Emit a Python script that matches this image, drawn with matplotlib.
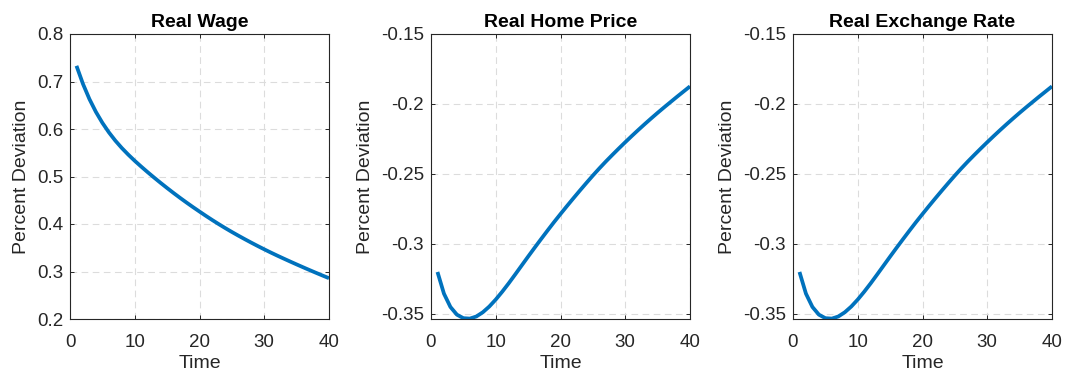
import matplotlib
matplotlib.use('Agg')
import matplotlib.pyplot as plt
from matplotlib.ticker import FuncFormatter

plt.rcParams['font.family'] = ['Liberation Sans', 'DejaVu Sans']

time = list(range(1, 41))

real_wage = [0.733, 0.695, 0.663, 0.636, 0.613, 0.593, 0.5755, 0.560, 0.546, 0.533,
             0.5208, 0.509, 0.4976, 0.4865, 0.4757, 0.4652, 0.455, 0.4451, 0.4355, 0.4262,
             0.4170, 0.4081, 0.3995, 0.3912, 0.3832, 0.3755, 0.3680, 0.3607, 0.3536, 0.3467,
             0.3400, 0.3335, 0.3272, 0.3210, 0.3149, 0.3089, 0.3030, 0.2972, 0.2915, 0.2859]

real_home_price = [-0.320, -0.3355, -0.345, -0.3505, -0.353, -0.3533, -0.3518, -0.3488, -0.3447, -0.3397,
                   -0.3341, -0.3281, -0.3218, -0.3154, -0.309, -0.3027, -0.2965, -0.2904, -0.2844, -0.2786,
                   -0.2729, -0.2673, -0.2618, -0.2564, -0.2511, -0.246, -0.2411, -0.2364, -0.2318, -0.2273,
                   -0.2229, -0.2186, -0.2144, -0.2103, -0.2063, -0.2024, -0.1986, -0.1948, -0.1911, -0.1874]

real_exchange_rate = [-0.320, -0.3355, -0.345, -0.3505, -0.353, -0.3533, -0.3518, -0.3488, -0.3447, -0.3397,
                      -0.3341, -0.3281, -0.3218, -0.3154, -0.309, -0.3027, -0.2965, -0.2904, -0.2844, -0.2786,
                      -0.2729, -0.2673, -0.2618, -0.2564, -0.2511, -0.246, -0.2411, -0.2364, -0.2318, -0.2273,
                      -0.2229, -0.2186, -0.2144, -0.2103, -0.2063, -0.2024, -0.1986, -0.1948, -0.1911, -0.1874]

titles = ['Real Wage', 'Real Home Price', 'Real Exchange Rate']
series = [real_wage, real_home_price, real_exchange_rate]
ylims = [(0.2, 0.8), (-0.3536, -0.15), (-0.3536, -0.15)]
yticks = [[0.2, 0.3, 0.4, 0.5, 0.6, 0.7, 0.8],
          [-0.35, -0.3, -0.25, -0.2, -0.15],
          [-0.35, -0.3, -0.25, -0.2, -0.15]]
xticks = [0, 10, 20, 30, 40]

text_color = '#262626'
line_color = '#0072BD'


def matlab_fmt(v, pos):
    # MATLAB-style tick text: no trailing zeros
    s = ('%.2f' % v).rstrip('0').rstrip('.')
    return '0' if s in ('-0', '') else s


fig = plt.figure(figsize=(10.68, 3.76), dpi=100)
lefts = [70, 431, 793]
for left, title, vals, ylim, yt in zip(lefts, titles, series, ylims, yticks):
    ax = fig.add_axes([left / 1068, 1 - 319 / 376, 259 / 1068, 285 / 376])
    ax.plot(time, vals, color=line_color, linewidth=2.7, solid_capstyle='butt')
    ax.set_xlim(0, 40)
    ax.set_ylim(*ylim)
    ax.set_xticks(xticks)
    ax.set_yticks(yt)
    ax.yaxis.set_major_formatter(FuncFormatter(matlab_fmt))
    ax.grid(True, color='#dcdcdc', linestyle=(0, (6, 4)), linewidth=0.8)
    ax.tick_params(direction='in', length=3, width=0.7, top=True, right=True,
                   labelsize=13.5, colors=text_color)
    ax.tick_params(axis='y', pad=5)
    ax.tick_params(axis='x', pad=11)
    for sp in ax.spines.values():
        sp.set_color(text_color)
        sp.set_linewidth(0.8)
    ax.set_title(title, fontsize=14, fontweight='bold', color='black', pad=5)
    ax.set_xlabel('Time', fontsize=14, color=text_color, labelpad=3)
    ax.set_ylabel('Percent Deviation', fontsize=14, color=text_color, labelpad=5)

fig.savefig('out.png', dpi=100)
